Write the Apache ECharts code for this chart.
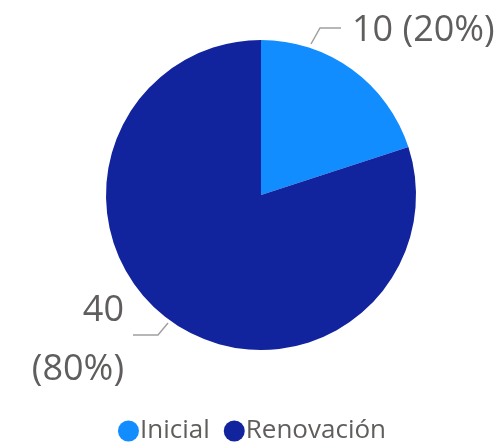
<!DOCTYPE html>
<html>
<head>
<meta charset="utf-8">
<script src="https://cdn.jsdelivr.net/npm/echarts@6/dist/echarts.min.js"></script>
<style>
  html, body { margin: 0; padding: 0; background: #fff; }
  #chart { width: 504px; height: 445px; }
</style>
</head>
<body>
<div id="chart"></div>
<script>
// datos del gráfico
const categories = ['Inicial', 'Renovación']
const values = [10, 40]
const colors = ['#118DFF', '#12239E']

const chart = echarts.init(document.getElementById('chart'))
const textColor = '#605E5C'

const option = {
  animation: false,
  color: colors,
  textStyle: { fontFamily: '"Open Sans", "Noto Sans", sans-serif' },
  legend: {
    bottom: -4,
    left: 'center',
    icon: 'circle',
    itemWidth: 21,
    itemHeight: 21,
    itemGap: 14,
    textStyle: { color: textColor, fontSize: 26, padding: [0, 0, 0, -4] },
    data: categories
  },
  series: [
    {
      type: 'pie',
      center: [261, 195],
      radius: 155,
      startAngle: 90,
      clockwise: true,
      label: {
        show: true,
        color: textColor,
        fontSize: 36,
        lineHeight: 59,
        overflow: 'none',
        formatter: function (p) {
          // la etiqueta de la izquierda va en dos líneas
          return p.dataIndex === 1 ? p.value + '\n(' + p.percent + '%)' : p.value + ' (' + p.percent + '%)'
        }
      },
      labelLine: {
        show: true,
        lineStyle: { color: '#A0A0A0', width: 1.5 }
      },
      labelLayout: function (params) {
        if (params.dataIndex === 0) {
          return {
            x: 352, y: 31, align: 'left', verticalAlign: 'middle',
            labelLinePoints: [[311, 44], [320, 28], [341, 28]]
          }
        }
        return {
          x: 124, y: 281, align: 'right', verticalAlign: 'top',
          labelLinePoints: [[168, 323], [158, 335], [133, 335]]
        }
      },
      data: categories.map((name, i) => ({ name: name, value: values[i] }))
    }
  ]
}

chart.setOption(option)
</script>
</body>
</html>
